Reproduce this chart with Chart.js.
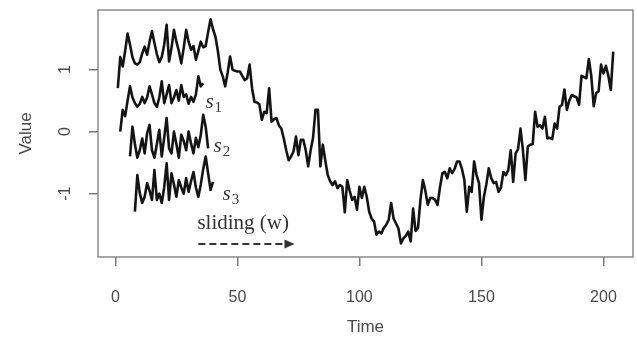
<!DOCTYPE html>
<html><head><meta charset="utf-8">
<script src="https://cdn.jsdelivr.net/npm/chart.js@4/dist/chart.umd.min.js"></script>
<style>html,body{margin:0;padding:0;background:#fff}#wrap{width:637px;height:338px}</style>
</head><body><div id="wrap"><canvas id="c" width="637" height="338"></canvas></div>
<script>
// Main time series, t = 1..204
const mainValues = [
 0.70,1.20,1.05,1.30,1.58,1.40,1.20,1.10,1.08,1.12,
 1.26,1.37,1.24,1.45,1.62,1.43,1.25,1.12,1.20,1.40,
 1.72,1.13,1.35,1.64,1.45,1.30,1.10,1.35,1.64,1.45,
 1.32,1.38,1.16,1.30,1.45,1.36,1.38,1.60,1.81,1.65,
 1.53,1.30,1.00,0.89,0.73,0.95,1.21,1.00,0.98,0.97,
 0.97,0.90,0.83,0.86,1.08,0.70,0.48,0.47,0.44,0.19,
 0.32,0.30,0.70,0.16,0.20,0.22,0.10,0.05,-0.11,-0.30,
 -0.46,-0.40,-0.32,-0.08,-0.38,-0.13,-0.13,-0.30,-0.56,-0.30,
 -0.10,0.35,0.35,-0.56,-0.21,-0.46,-0.70,-0.80,-0.86,-0.80,
 -0.91,-0.86,-0.89,-1.30,-0.78,-0.95,-1.10,-1.05,-1.26,-0.89,
 -1.07,-0.89,-1.05,-1.29,-1.40,-1.45,-1.66,-1.61,-1.64,-1.55,
 -1.50,-1.42,-1.15,-1.40,-1.48,-1.56,-1.80,-1.72,-1.68,-1.61,
 -1.77,-1.24,-1.60,-1.55,-1.10,-0.78,-0.95,-1.18,-1.07,-1.07,
 -1.10,-1.18,-0.90,-0.67,-0.65,-0.75,-0.59,-0.67,-0.60,-0.48,
 -0.48,-0.60,-0.78,-1.29,-0.89,-0.97,-0.48,-0.70,-0.83,-1.42,
 -1.05,-0.85,-0.59,-0.75,-0.83,-0.81,-0.97,-0.90,-0.65,-0.70,
 -0.62,-0.30,-0.81,-0.35,-0.28,0.05,-0.30,-0.78,-0.24,-0.21,
 -0.20,0.32,0.08,0.10,0.05,0.24,-0.11,-0.10,-0.12,0.13,
 0.05,0.40,0.43,0.68,0.35,0.50,0.59,0.57,0.55,0.43,
 0.90,0.88,0.86,1.17,0.90,0.41,0.62,0.65,1.08,0.94,
 1.06,0.90,0.67,1.29
];
const mainStart = 1;

// Sliding-window subsequences (drawn offset below the series)
const s1Start = 2;
const s1Values = [
 0.00,0.35,0.25,0.50,0.73,0.55,0.46,0.40,0.45,0.56,
 0.46,0.55,0.73,0.60,0.46,0.40,0.55,0.81,0.46,0.60,
 0.75,0.46,0.55,0.67,0.50,0.75,0.56,0.60,0.45,0.56,
 0.48,0.60,0.89,0.73,0.78
];
const s2Start = 6;
const s2Values = [
 -0.40,0.08,-0.20,-0.42,-0.30,-0.11,-0.35,-0.03,0.11,-0.30,
 -0.42,-0.20,0.03,-0.40,-0.10,0.22,-0.27,-0.35,0.00,-0.20,
 -0.42,-0.05,-0.15,-0.30,0.00,-0.19,-0.35,-0.10,-0.25,-0.05,
 0.27,0.08,-0.27
];
const s3Start = 8;
const s3Values = [
 -1.29,-0.70,-0.99,-1.15,-1.05,-0.83,-0.95,-1.10,-0.62,-1.10,
 -1.00,-1.15,-0.90,-0.51,-1.10,-0.67,-0.85,-1.05,-0.78,-0.90,
 -1.00,-0.75,-0.97,-0.80,-0.65,-0.90,-1.05,-0.85,-0.60,-0.40,
 -0.67,-0.94,-0.81
];

const xTicks = [0, 50, 100, 150, 200];
const yTicks = [-1, 0, 1];
const xTitle = 'Time';
const yTitle = 'Value';

// annotation anchors in data units
const seqLabels = [
  {t: 36.9, v: 0.38, sub: '1'},
  {t: 40.2, v: -0.33, sub: '2'},
  {t: 43.9, v: -1.10, sub: '3'}
];
const slideText = 'sliding (w)';
const slideAnchor = {t: 33.6, v: -1.57};
const arrowFrom = {t: 34.0, v: -1.81};
const arrowTo = {t: 73.4, v: -1.81};

function toPoints(start, vals){ return vals.map((v,i)=>({x:start+i, y:v})); }

const lineStyle = {borderColor:'#141414', borderWidth:2.6, pointRadius:0, tension:0, fill:false, borderJoinStyle:'round'};

const frame = {
  id:'frame',
  afterDatasetsDraw(chart){
    const {ctx, chartArea:a, scales:{x, y}} = chart;
    ctx.save();
    ctx.strokeStyle = '#8a8a8a'; ctx.lineWidth = 1.5;
    ctx.strokeRect(a.left, a.top, a.right - a.left, a.bottom - a.top);
    ctx.fillStyle = '#333';
    ctx.textBaseline = 'alphabetic'; ctx.textAlign = 'left';
    seqLabels.forEach(l => {
      const px = x.getPixelForValue(l.t), py = y.getPixelForValue(l.v);
      ctx.font = 'italic 21px "Liberation Serif", serif';
      ctx.fillText('s', px, py);
      const w = ctx.measureText('s').width;
      ctx.font = '15px "Liberation Serif", serif';
      ctx.fillText(l.sub, px + w + 1, py + 4);
    });
    ctx.font = '21px "Liberation Serif", serif';
    ctx.fillText(slideText, x.getPixelForValue(slideAnchor.t), y.getPixelForValue(slideAnchor.v));
    const x0 = x.getPixelForValue(arrowFrom.t), x1 = x.getPixelForValue(arrowTo.t);
    const ya = y.getPixelForValue(arrowFrom.v);
    ctx.strokeStyle = '#333'; ctx.lineWidth = 2;
    ctx.setLineDash([7,4]);
    ctx.beginPath(); ctx.moveTo(x0, ya); ctx.lineTo(x1 - 8, ya); ctx.stroke();
    ctx.setLineDash([]);
    ctx.beginPath(); ctx.moveTo(x1, ya); ctx.lineTo(x1 - 10, ya - 4.5); ctx.lineTo(x1 - 10, ya + 4.5); ctx.closePath(); ctx.fill();
    ctx.restore();
  }
};

function noPad(s){ s.paddingTop = 0; s.paddingBottom = 0; s.paddingLeft = 0; s.paddingRight = 0; }

new Chart(document.getElementById('c'), {
  type:'line',
  data:{datasets:[
    Object.assign({data: toPoints(mainStart, mainValues)}, lineStyle),
    Object.assign({data: toPoints(s1Start, s1Values)}, lineStyle),
    Object.assign({data: toPoints(s2Start, s2Values)}, lineStyle),
    Object.assign({data: toPoints(s3Start, s3Values)}, lineStyle)
  ]},
  options:{
    responsive:false, animation:false, devicePixelRatio:1,
    layout:{padding:{top:10, right:4, left:0, bottom:0}},
    plugins:{legend:{display:false}, tooltip:{enabled:false}},
    scales:{
      x:{type:'linear', min:-7.12, max:212.1,
        afterBuildTicks: s => { s.ticks = xTicks.map(v=>({value:v})); },
        afterFit: s => { s.height = 81; noPad(s); },
        grid:{drawOnChartArea:false, tickLength:9, color:'#7a7a7a', lineWidth:1.5},
        border:{display:false},
        ticks:{padding:22, color:'#4a4a4a', font:{family:'"Liberation Sans", Arial, sans-serif', size:16}, maxRotation:0},
        title:{display:true, text:xTitle, color:'#4a4a4a', font:{family:'"Liberation Sans", Arial, sans-serif', size:17}, padding:{top:0,bottom:0}}
      },
      y:{type:'linear', min:-2.02, max:1.96,
        afterBuildTicks: s => { s.ticks = yTicks.map(v=>({value:v})); },
        afterFit: s => { s.width = 98; noPad(s); },
        grid:{drawOnChartArea:false, tickLength:9, color:'#7a7a7a', lineWidth:1.5},
        border:{display:false},
        ticks:{padding:16, crossAlign:'center', minRotation:90, maxRotation:90, color:'#4a4a4a', font:{family:'"Liberation Sans", Arial, sans-serif', size:16}},
        title:{display:true, text:yTitle, color:'#4a4a4a', font:{family:'"Liberation Sans", Arial, sans-serif', size:17}, padding:{top:16,bottom:0}}
      }
    }
  },
  plugins:[frame]
});
</script></body></html>
